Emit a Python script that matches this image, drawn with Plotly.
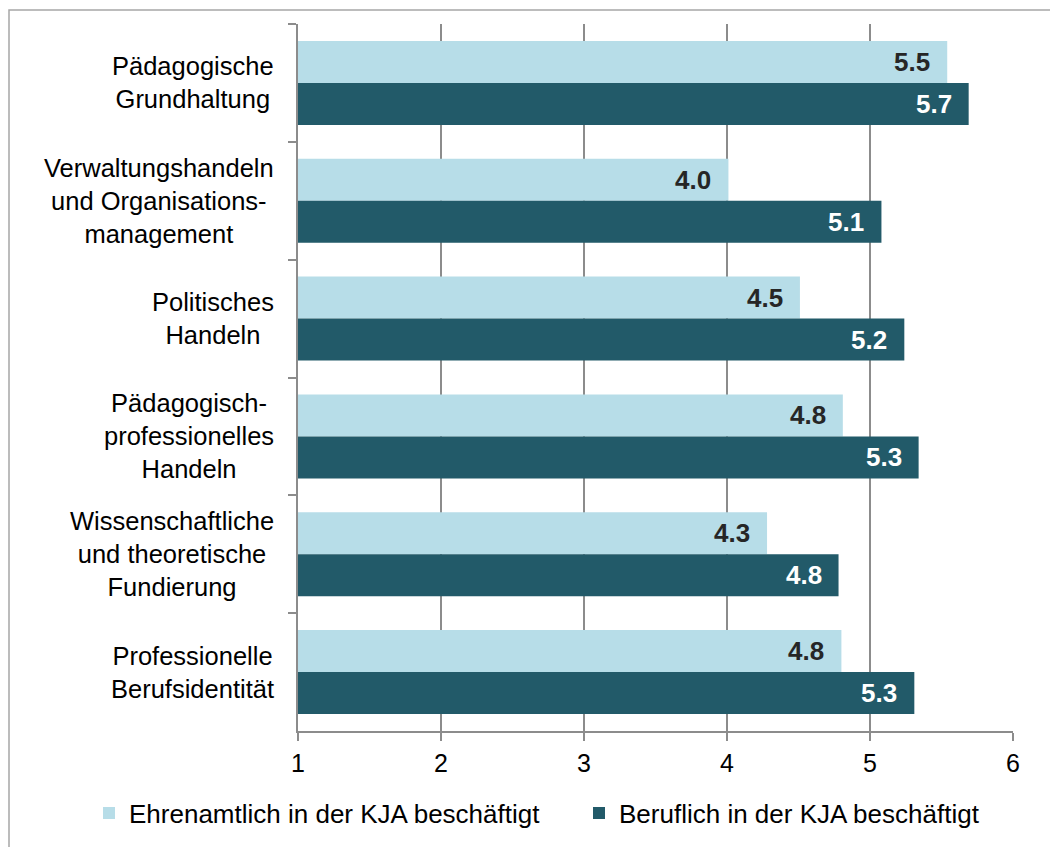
import plotly.graph_objects as go

categories = [
    "Pädagogische<br>Grundhaltung",
    "Verwaltungshandeln<br>und Organisations-<br>management",
    "Politisches<br>Handeln",
    "Pädagogisch-<br>professionelles<br>Handeln",
    "Wissenschaftliche<br>und theoretische<br>Fundierung",
    "Professionelle<br>Berufsidentität",
]
ehrenamtlich = [5.54, 4.01, 4.51, 4.81, 4.28, 4.80]
beruflich = [5.69, 5.08, 5.24, 5.34, 4.78, 5.31]
series_names = ["Ehrenamtlich in der KJA beschäftigt", "Beruflich in der KJA beschäftigt"]
x_ticks = [1, 2, 3, 4, 5, 6]

BASE = 1
LIGHT = "#B7DDE8"
DARK = "#225A69"
GRID = "#8C8C8C"
FONT = "Liberation Sans, Arial, sans-serif"

# figure is placed at an 8px body offset in the page
W, H = 1050, 839
L, R, T, B = 290, 45, 16, 116

fig = go.Figure()
for i, (name, vals, col) in enumerate([(series_names[0], ehrenamtlich, LIGHT),
                                       (series_names[1], beruflich, DARK)]):
    fig.add_trace(go.Bar(
        y=categories, x=[v - BASE for v in vals], base=BASE, orientation="h",
        name=name, marker=dict(color=col, line=dict(color=col, width=0)),
        legend="legend" if i == 0 else "legend2",
    ))

annotations = []
for cat, v in zip(categories, ehrenamtlich):
    annotations.append(dict(x=v, y=cat, xref="x", yref="y", text=f"<b>{v:.1f}</b>",
                            showarrow=False, xanchor="right", yanchor="middle",
                            xshift=-15, yshift=21, font=dict(size=26, color="#262626", family=FONT)))
for cat, v in zip(categories, beruflich):
    annotations.append(dict(x=v, y=cat, xref="x", yref="y", text=f"<b>{v:.1f}</b>",
                            showarrow=False, xanchor="right", yanchor="middle",
                            xshift=-15, yshift=-21, font=dict(size=26, color="#FFFFFF", family=FONT)))
for cat in categories:
    annotations.append(dict(x=0, y=cat, xref="paper", yref="y", text=cat,
                            showarrow=False, xanchor="right", yanchor="middle", align="center",
                            xshift=-22, font=dict(size=25.5, color="#000000", family=FONT)))

pw, ph = W - L - R, H - T - B
def px(xp):
    return (xp - L) / pw
def py(yp):
    return (H - B - yp) / ph

legend_common = dict(orientation="h", xref="container", yref="container",
                     xanchor="left", yanchor="middle", itemwidth=30,
                     font=dict(size=26, family=FONT, color="#000000"),
                     bgcolor="rgba(0,0,0,0)")

fig.update_layout(
    width=W, height=H,
    margin=dict(l=L, r=R, t=T, b=B, autoexpand=False),
    paper_bgcolor="white", plot_bgcolor="white",
    barmode="group", bargap=0.287, bargroupgap=0,
    font=dict(family=FONT, size=25, color="#000000"),
    showlegend=True,
    legend=dict(x=81 / W, y=1 - 805 / H, **legend_common),
    legend2=dict(x=571 / W, y=1 - 805 / H, **legend_common),
    annotations=annotations,
    shapes=[dict(type="rect", xref="paper", yref="paper",
                 x0=px(1), x1=px(1060), y0=py(850), y1=py(2),
                 line=dict(color="#A6A6A6", width=1.5), fillcolor="rgba(0,0,0,0)", layer="below")],
)
fig.update_xaxes(range=[1, 6], tickvals=x_ticks, ticktext=[str(t) for t in x_ticks],
                 showgrid=True, gridcolor=GRID, gridwidth=1.5,
                 showline=True, linecolor=GRID, linewidth=1.5,
                 ticks="outside", ticklen=8, tickcolor=GRID, tickwidth=1.5,
                 ticklabelstandoff=1,
                 tickfont=dict(size=25, family=FONT, color="#000000"), zeroline=False)
fig.update_yaxes(autorange="reversed", type="category", tickson="boundaries",
                 showticklabels=False, showgrid=False,
                 showline=True, linecolor=GRID, linewidth=1.5,
                 ticks="outside", ticklen=8, tickcolor=GRID, tickwidth=1.5)

fig.write_html("out.html")
